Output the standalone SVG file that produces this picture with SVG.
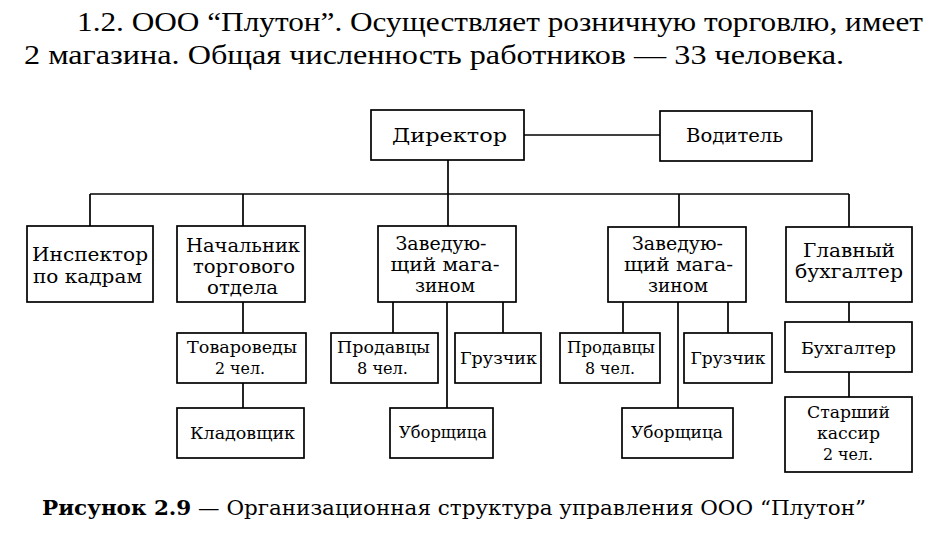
<svg xmlns="http://www.w3.org/2000/svg" width="938" height="533" viewBox="0 0 938 533">
<style>
  .box { fill: #fff; stroke: #000; stroke-width: 1.7; }
  .ln { stroke: #000; stroke-width: 1.7; fill: none; }
  .h { font-family: "DejaVu Serif", "Liberation Serif", serif; font-size: 18px; text-anchor: middle; fill: #000; }
  .s { font-family: "DejaVu Serif", "Liberation Serif", serif; font-size: 16.5px; text-anchor: middle; fill: #000; }
  .body { font-family: "Liberation Serif", "DejaVu Serif", serif; font-size: 28px; fill: #000; }
  .cap { font-family: "DejaVu Serif", "Liberation Serif", serif; font-size: 20px; fill: #000; }
</style>
<rect width="938" height="533" fill="#fff"/>
<text class="body" x="77" y="31" textLength="846" lengthAdjust="spacingAndGlyphs">1.2. ООО “Плутон”. Осуществляет розничную торговлю, имеет</text>
<text class="body" x="24" y="64" textLength="820" lengthAdjust="spacingAndGlyphs">2 магазина. Общая численность работников — 33 человека.</text>

<g id="connectors">
  <path class="ln" d="M448 160 V226"/>
  <path class="ln" d="M90 194 H849"/>
  <path class="ln" d="M90 194 V226 M243 194 V226 M679 194 V227 M849 194 V227"/>
  <path class="ln" d="M524 135 H660"/>
  <path class="ln" d="M243 302 V333 M243 383 V408"/>
  <path class="ln" d="M393 302 V333 M447 302 V408 M503 302 V333"/>
  <path class="ln" d="M623 302 V333 M678 302 V408 M728 302 V333"/>
  <path class="ln" d="M849 302 V322 M849 372 V397"/>
</g>

<g id="director"><rect class="box" x="371" y="110" width="153" height="50"/><text class="h" x="449.5" y="142" font-size="21" textLength="115" lengthAdjust="spacingAndGlyphs">Директор</text></g>
<g id="driver"><rect class="box" x="660" y="111" width="152" height="50"/><text class="h" x="734.5" y="142" font-size="19" textLength="97" lengthAdjust="spacingAndGlyphs">Водитель</text></g>
<g id="inspector"><rect class="box" x="27" y="226" width="126" height="76"/><text class="h" x="90" y="261" textLength="116" lengthAdjust="spacingAndGlyphs">Инспектор</text><text class="h" x="87.5" y="283" textLength="109" lengthAdjust="spacingAndGlyphs">по кадрам</text></g>
<g id="trade-head"><rect class="box" x="177" y="226" width="128" height="76"/><text class="h" x="243" y="252" textLength="114" lengthAdjust="spacingAndGlyphs">Начальник</text><text class="h" x="244" y="273" textLength="102" lengthAdjust="spacingAndGlyphs">торгового</text><text class="h" x="242.5" y="294" textLength="71" lengthAdjust="spacingAndGlyphs">отдела</text></g>
<g id="store-head-1"><rect class="box" x="378" y="226" width="138" height="76"/><text class="h" x="441" y="250" textLength="91" lengthAdjust="spacingAndGlyphs">Заведую-</text><text class="h" x="445" y="271" textLength="109" lengthAdjust="spacingAndGlyphs">щий мага-</text><text class="h" x="445" y="292" textLength="60" lengthAdjust="spacingAndGlyphs">зином</text></g>
<g id="store-head-2"><rect class="box" x="608" y="227" width="138" height="75"/><text class="h" x="677.5" y="250" textLength="91" lengthAdjust="spacingAndGlyphs">Заведую-</text><text class="h" x="678.5" y="271" textLength="109" lengthAdjust="spacingAndGlyphs">щий мага-</text><text class="h" x="678" y="292" textLength="60" lengthAdjust="spacingAndGlyphs">зином</text></g>
<g id="chief-accountant"><rect class="box" x="786" y="227" width="126" height="75"/><text class="h" x="849" y="257" textLength="92" lengthAdjust="spacingAndGlyphs">Главный</text><text class="h" x="849" y="278" textLength="108" lengthAdjust="spacingAndGlyphs">бухгалтер</text></g>

<g id="merch"><rect class="box" x="177" y="333" width="129" height="50"/><text class="s" x="242" y="353" textLength="110" lengthAdjust="spacingAndGlyphs">Товароведы</text><text class="s" x="240" y="374" textLength="50" lengthAdjust="spacingAndGlyphs">2 чел.</text></g>
<g id="storekeeper"><rect class="box" x="177" y="408" width="127" height="50"/><text class="s" x="242.5" y="439" textLength="105" lengthAdjust="spacingAndGlyphs">Кладовщик</text></g>
<g id="sellers-1"><rect class="box" x="331" y="333" width="107" height="50"/><text class="s" x="383.5" y="353" textLength="93" lengthAdjust="spacingAndGlyphs">Продавцы</text><text class="s" x="382.5" y="374" textLength="51" lengthAdjust="spacingAndGlyphs">8 чел.</text></g>
<g id="loader-1"><rect class="box" x="455" y="333" width="86" height="50"/><text class="s" x="498.5" y="364" textLength="77" lengthAdjust="spacingAndGlyphs">Грузчик</text></g>
<g id="cleaner-1"><rect class="box" x="390" y="408" width="103" height="50"/><text class="s" x="443" y="438" textLength="88" lengthAdjust="spacingAndGlyphs">Уборщица</text></g>
<g id="sellers-2"><rect class="box" x="560" y="333" width="100" height="50"/><text class="s" x="611" y="353" textLength="88" lengthAdjust="spacingAndGlyphs">Продавцы</text><text class="s" x="610" y="374" textLength="50" lengthAdjust="spacingAndGlyphs">8 чел.</text></g>
<g id="loader-2"><rect class="box" x="684" y="333" width="88" height="50"/><text class="s" x="728" y="364" textLength="75" lengthAdjust="spacingAndGlyphs">Грузчик</text></g>
<g id="cleaner-2"><rect class="box" x="622" y="408" width="111" height="50"/><text class="s" x="677" y="438" textLength="92" lengthAdjust="spacingAndGlyphs">Уборщица</text></g>
<g id="accountant"><rect class="box" x="785" y="322" width="127" height="50"/><text class="s" x="848.5" y="354" textLength="95" lengthAdjust="spacingAndGlyphs">Бухгалтер</text></g>
<g id="cashier"><rect class="box" x="785" y="397" width="127" height="75"/><text class="s" x="848.5" y="418" textLength="83" lengthAdjust="spacingAndGlyphs">Старший</text><text class="s" x="848.5" y="439" textLength="63" lengthAdjust="spacingAndGlyphs">кассир</text><text class="s" x="848" y="460" textLength="50" lengthAdjust="spacingAndGlyphs">2 чел.</text></g>

<text class="cap" x="42" y="515" textLength="824" lengthAdjust="spacingAndGlyphs"><tspan font-weight="bold">Рисунок 2.9</tspan> — Организационная структура управления ООО “Плутон”</text>
</svg>
